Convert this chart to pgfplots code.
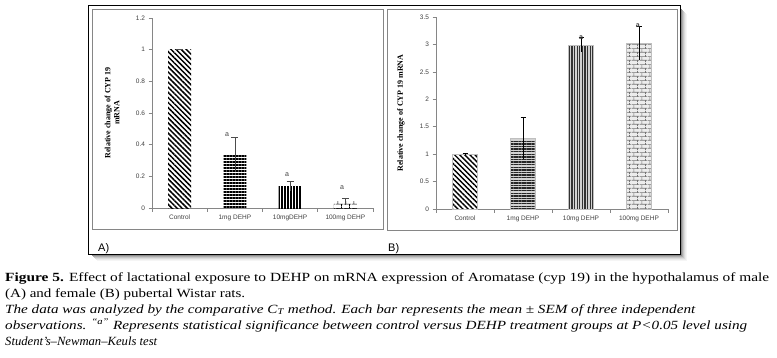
\documentclass[border=0pt]{standalone}
\usepackage{pgfplots}
\pgfplotsset{compat=1.18}
\usepackage{fontspec}
\setmainfont{Liberation Serif}
\setsansfont{Liberation Sans}
\usepackage{graphicx}
\usetikzlibrary{patterns,patterns.meta}
\definecolor{axgray}{HTML}{868686}
\definecolor{txtgray}{HTML}{404040}

\tikzdeclarepattern{
  name=mybricks, type=uncolored,
  bottom left={(0pt,0pt)}, top right={(8pt,8pt)}, tile size={(8pt,8pt)},
  code={
    \draw[line width=0.7pt] (0pt,2pt) -- (8pt,2pt) (0pt,6pt) -- (8pt,6pt)
      (2pt,2pt) -- (2pt,6pt) (6pt,6pt) -- (6pt,8pt) (6pt,0pt) -- (6pt,2pt);
  }
}

\pgfplotsset{exstyle/.style={
  scale only axis, xmin=-0.5, xmax=3.5, ymin=0, clip=false,
  axis lines=left, axis line style={draw=axgray, line width=0.6pt, -},
  tick align=outside, major tick length=3.5pt,
  tick style={draw=axgray, line width=0.6pt},
  xtick={-0.5,0.5,1.5,2.5,3.5}, x tick label as interval,
  tick label style={font=\fontsize{6.5}{7}\selectfont\sffamily, text=txtgray},
  /pgf/number format/assume math mode=true,
  ylabel style={font=\fontsize{8}{9}\selectfont\bfseries, anchor=center},
}}

\begin{document}
\begin{tikzpicture}[x=1pt,y=1pt]
\path[use as bounding box] (0,0) rectangle (777,357);

% shadow and outer box
\foreach \i/\c in {1/45,2/32,3/22,4/14,5/8,6/4} {
  \draw[black!\c, line width=1pt] (680+\i,349-\i) -- (680+\i,103-\i) -- (91+\i,103-\i);
}
\draw[black, line width=0.9pt, fill=white] (88,352) rectangle (680,103);
\draw[axgray, line width=0.8pt] (92,348) rectangle (383,128);
\draw[axgray, line width=0.8pt] (387,348) rectangle (677,127);
\node[font=\fontsize{11}{12}\selectfont\sffamily, anchor=west, inner sep=0] at (98,108) {A)};
\node[font=\fontsize{11}{12}\selectfont\sffamily, anchor=west, inner sep=0] at (388,108) {B)};

% Panel A
\begin{axis}[exstyle, at={(152pt,149pt)}, anchor=south west,
  width=221pt, height=190pt, ymax=1.2,
  ytick={0,0.2,0.4,0.6,0.8,1,1.2},
  xticklabels={Control,1mg DEHP,10mgDEHP,100mg DEHP},
  ylabel={Relative change of CYP 19\\mRNA},
  ylabel style={align=center, at={(axis description cs:-0.181,0.5)}}]
\addplot[ybar, bar width=23pt, bar shift=0pt, draw=none,
  pattern={Lines[angle=-45,distance=3.6pt,line width=1.5pt]}] coordinates {(0,1.0)};
\addplot[ybar, bar width=23pt, bar shift=0pt, draw=none,
  pattern={Lines[angle=0,distance=3pt,line width=1.3pt]}] coordinates {(1,0.337)};
\addplot[ybar, bar width=23pt, bar shift=0pt, draw=none,
  pattern={Lines[angle=90,distance=3pt,line width=1.2pt]}] coordinates {(2,0.133)};
\addplot[ybar, bar width=23pt, bar shift=0pt, draw=none,
  pattern=mybricks] coordinates {(3,0.042)};
\addplot[draw=none, mark=none, forget plot, error bars/.cd, y dir=plus, y explicit,
  error mark=-, error mark options={rotate=90, draw=black!70, mark size=3.5pt, line width=0.6pt},
  error bar style={draw=black!70, line width=0.6pt}]
  coordinates {(0,1.0) +- (0,0.003) (1,0.337) +- (0,0.107) (2,0.133) +- (0,0.038) (3,0.042) +- (0,0.021)};
\addplot[draw=none, mark=none, forget plot, error bars/.cd, y dir=minus, y explicit,
  error mark=none,
  error bar style={draw=black!70, line width=0.6pt}]
  coordinates {(1,0.337) +- (0,0.095) (2,0.133) +- (0,0.028) (3,0.042) +- (0,0.021)};
\node[font=\fontsize{7}{8}\selectfont\sffamily, text=txtgray] at (axis cs:0.857,0.461) {a};
\node[font=\fontsize{7}{8}\selectfont\sffamily, text=txtgray] at (axis cs:1.943,0.208) {a};
\node[font=\fontsize{7}{8}\selectfont\sffamily, text=txtgray] at (axis cs:2.939,0.126) {a};
\end{axis}

% Panel B
\begin{axis}[exstyle, at={(436pt,148pt)}, anchor=south west,
  width=232pt, height=192pt, ymax=3.5,
  ytick={0,0.5,1,1.5,2,2.5,3,3.5},
  xticklabels={Control,1mg DEHP,10mg DEHP,100mg DEHP},
  ylabel={Relative change of CYP 19 mRNA},
  ylabel style={at={(axis description cs:-0.151,0.5)}}]
\addplot[ybar, bar width=25pt, bar shift=0pt, draw=gray!50,
  pattern={Lines[angle=-45,distance=3.6pt,line width=1.4pt]}] coordinates {(0,1.0)};
\addplot[ybar, bar width=25pt, bar shift=0pt, draw=gray!50, fill=gray!35,
  postaction={pattern={Lines[angle=0,distance=2.6pt,line width=1.4pt]}, pattern color=black!85}] coordinates {(1,1.29)};
\addplot[ybar, bar width=25pt, bar shift=0pt, draw=gray!50, fill=gray!35,
  postaction={pattern={Lines[angle=90,distance=2.6pt,line width=1.3pt]}, pattern color=black!80}] coordinates {(2,2.98)};
\addplot[ybar, bar width=25pt, bar shift=0pt, draw=gray!50, fill=gray!15,
  postaction={pattern=mybricks, pattern color=black!55}] coordinates {(3,3.02)};
\addplot[draw=none, mark=none, forget plot, error bars/.cd, y dir=plus, y explicit,
  error mark=-, error mark options={rotate=90, draw=black, mark size=2.5pt, line width=0.9pt},
  error bar style={draw=black, line width=0.9pt}]
  coordinates {(0,1.0) +- (0,0.01) (1,1.29) +- (0,0.37) (2,2.98) +- (0,0.14) (3,3.02) +- (0,0.30)};
\addplot[draw=none, mark=none, forget plot, error bars/.cd, y dir=minus, y explicit,
  error mark=none,
  error bar style={draw=black, line width=0.9pt}]
  coordinates {(1,1.29) +- (0,0.37) (2,2.98) +- (0,0.12) (3,3.02) +- (0,0.30)};
\node[font=\fontsize{7}{8}\selectfont\sffamily\bfseries, text=txtgray] at (axis cs:2.0,3.12) {a};
\node[font=\fontsize{7}{8}\selectfont\sffamily\bfseries, text=txtgray] at (axis cs:2.98,3.34) {a};
\end{axis}

% caption
\node[anchor=base west, inner sep=0] at (5,76) {\resizebox{764pt}{\height}{\fontsize{12.5}{14}\selectfont\textbf{Figure 5.} Effect of lactational exposure to DEHP on mRNA expression of Aromatase (cyp 19) in the hypothalamus of male}};
\node[anchor=base west, inner sep=0] at (5,60) {\resizebox{240pt}{\height}{\fontsize{12.5}{14}\selectfont (A) and female (B) pubertal Wistar rats.}};
\node[anchor=base west, inner sep=0] at (5,44) {\resizebox{690pt}{\height}{\fontsize{12.5}{14}\selectfont\itshape The data was analyzed by the comparative C\textsubscript{T} method. Each bar represents the mean ± SEM of three independent}};
\node[anchor=base west, inner sep=0] at (5,28) {\resizebox{742pt}{\height}{\fontsize{12.5}{14}\selectfont\itshape observations. \textsuperscript{``a''} Represents statistical significance between control versus DEHP treatment groups at P<0.05 level using}};
\node[anchor=base west, inner sep=0] at (5,12) {\resizebox{152pt}{\height}{\fontsize{12.5}{14}\selectfont\itshape Student’s–Newman–Keuls test}};
\end{tikzpicture}
\end{document}
